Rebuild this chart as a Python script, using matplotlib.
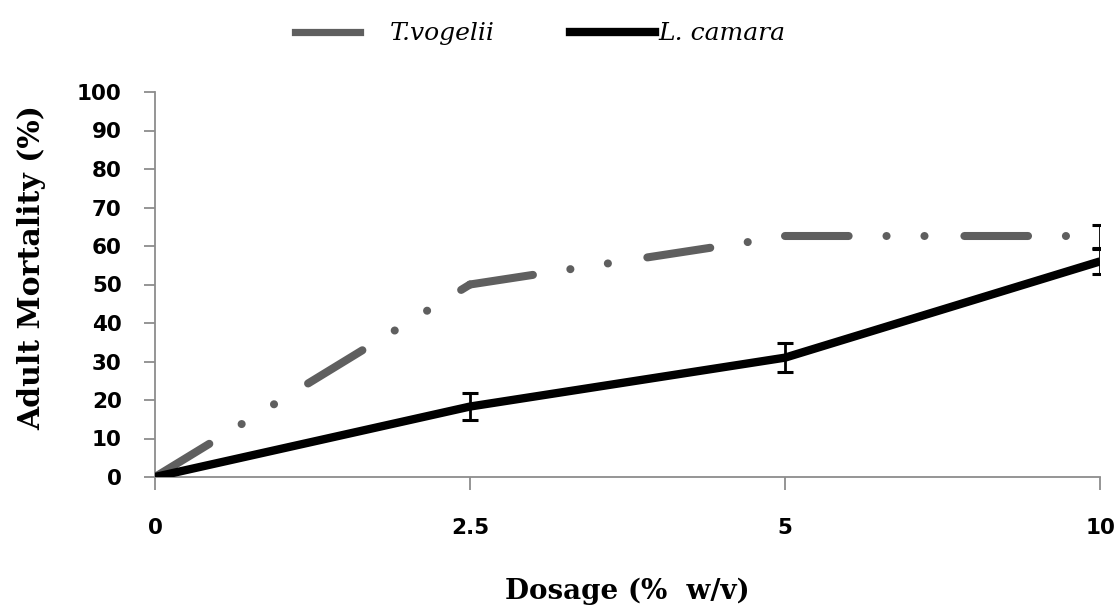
import matplotlib
matplotlib.use("Agg")
import matplotlib.pyplot as plt
from matplotlib.lines import Line2D
import numpy as np

categories = ["0", "2.5", "5", "10"]
tvogelii = [0, 50, 62.5, 62.5]
tvogelii_err = [0, 0, 0, 3.0]
lcamara = [0, 18.3, 31, 56]
lcamara_err = [0, 3.6, 3.7, 3.3]

GRAY = "#5f5f5f"
W, H = 1119, 607
fig = plt.figure(figsize=(W / 100, H / 100), dpi=100)
ax = fig.add_axes([155 / W, 1 - 477 / H, 945 / W, 385 / H])
x = np.arange(len(categories))

# dash-dot-dot pattern restarts at every data point (as in the source chart)
pattern = (0, (7.9, 4.7, 0.01, 4.7, 0.01, 4.95))
for i in range(len(x) - 1):
    ax.plot(x[i:i + 2], tvogelii[i:i + 2], color=GRAY, lw=5.8,
            solid_capstyle="round", dash_capstyle="round",
            linestyle=pattern, zorder=3)
ax.errorbar(x[3:], tvogelii[3:], yerr=tvogelii_err[3:], fmt="none",
            ecolor="black", elinewidth=2, capsize=5.5, capthick=2.2, zorder=4)
ax.plot(x, lcamara, color="black", lw=6, solid_capstyle="butt",
        solid_joinstyle="round", zorder=3)
ax.errorbar(x[1:], lcamara[1:], yerr=lcamara_err[1:], fmt="none",
            ecolor="black", elinewidth=2, capsize=5.5, capthick=2.2, zorder=4)

ax.set_xlim(0, 3)
ax.set_ylim(0, 100)
ax.set_xticks(x)
ax.set_xticklabels(categories)
ax.set_yticks(np.arange(0, 101, 10))
for s in ["top", "right"]:
    ax.spines[s].set_visible(False)
for s in ["left", "bottom"]:
    ax.spines[s].set_color("#8c8c8c")
    ax.spines[s].set_linewidth(1.3)
ax.tick_params(axis="both", direction="out", width=1.3, color="#8c8c8c",
               labelsize=15.5)
ax.tick_params(axis="y", length=8, pad=16)
ax.tick_params(axis="x", length=9.5, pad=20)
for lab in ax.get_xticklabels() + ax.get_yticklabels():
    lab.set_fontweight("bold")
    lab.set_fontfamily("DejaVu Sans")

ax.set_xlabel("Dosage (%  w/v)", fontsize=20, fontweight="bold",
              fontfamily="DejaVu Serif")
ax.xaxis.set_label_coords(0.5, (477 - 578) / 385)
ax.set_ylabel("Adult Mortality (%)", fontsize=21.5, fontweight="bold",
              fontfamily="DejaVu Serif")
ax.yaxis.set_label_coords((46 - 155) / 945, (477 - 268) / 385)

# legend (drawn in figure pixel coordinates)
ly = 1 - 32 / H
fig.add_artist(Line2D([295 / W, 360 / W], [ly, ly], color=GRAY, lw=5.2,
                      transform=fig.transFigure))
fig.text(390 / W, ly - 0.003, "T.vogelii", ha="left", va="center",
         fontsize=18, fontstyle="italic", fontfamily="DejaVu Serif")
fig.add_artist(Line2D([570 / W, 655 / W], [ly, ly], color="black", lw=6,
                      transform=fig.transFigure))
fig.text(658 / W, ly - 0.003, "L. camara", ha="left", va="center",
         fontsize=18, fontstyle="italic", fontfamily="DejaVu Serif")

fig.savefig("out.png", dpi=100)
